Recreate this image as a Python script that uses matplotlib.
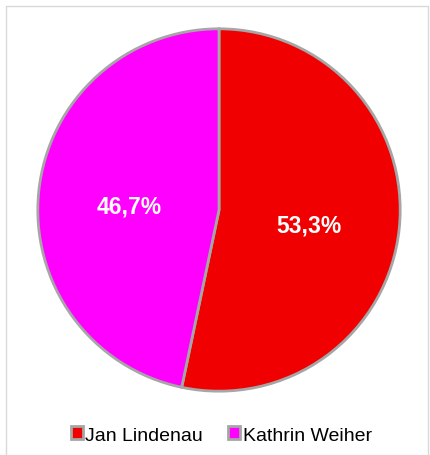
import matplotlib.pyplot as plt
from matplotlib.patches import Rectangle, Patch

# Data
names = ['Jan Lindenau', 'Kathrin Weiher']
shares = [53.3, 46.7]
colors = ['#f00000', '#ff00ff']

plt.rcParams['font.family'] = ['Liberation Sans', 'DejaVu Sans']

W, H = 431, 456
fig = plt.figure(figsize=(W / 100, H / 100), dpi=100)

# pie centre (219, 211) px from top-left, radius 183 px
cx, cy, r = 219, 211, 183
ax = fig.add_axes([(cx - r) / W, (H - cy - r) / H, 2 * r / W, 2 * r / H])

wedges, texts, autotexts = ax.pie(
    shares, colors=colors, startangle=90, counterclock=False,
    autopct=lambda p: f'{p:.1f}%'.replace('.', ','), pctdistance=0.5,
    wedgeprops=dict(edgecolor='#a6a6a6', linewidth=2),
    textprops=dict(color='white', fontsize=16.5, fontweight='bold'))
# labels sit a little lower than the wedge midpoints
for t in autotexts:
    x, y = t.get_position()
    t.set_position((x, y - 0.03))
ax.set_xlim(-1.01, 1.01)
ax.set_ylim(-1.01, 1.01)
ax.set_aspect('equal')

# chart area border
fig.patches.append(Rectangle((6 / W, -0.05), (428 - 6) / W, 1.05 - 7 / H,
                             transform=fig.transFigure, fill=False,
                             edgecolor='#d9d9d9', linewidth=1.0))

handles = [Patch(facecolor=c, edgecolor='#a6a6a6', linewidth=2) for c in colors]
fig.legend(handles, names, loc='center', bbox_to_anchor=(0.5 + 6 / W, 1 - 436 / H),
           ncol=2, frameon=False, fontsize=14, handlelength=0.6, handleheight=0.6,
           handletextpad=0.15, columnspacing=1.3)

fig.savefig('out.png', dpi=100)
